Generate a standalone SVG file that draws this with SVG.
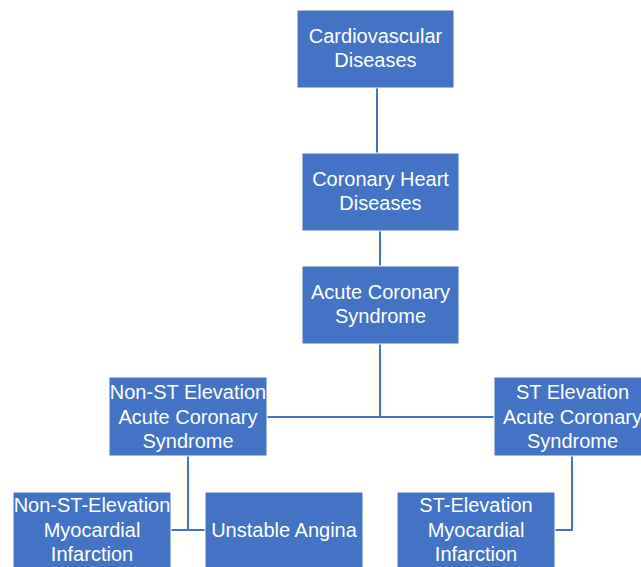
<svg xmlns="http://www.w3.org/2000/svg" width="641" height="567" viewBox="0 0 641 567">
<style>
.box{fill:#4472C4;stroke:#ffffff;stroke-width:1}
.t{fill:#ffffff;font-family:"Liberation Sans",Arial,sans-serif;font-size:20px;text-anchor:middle}
.c{fill:none;stroke:#4472C4;stroke-width:2}
</style>
<rect width="641" height="567" fill="#ffffff"/>
<g id="connectors">
<path class="c" d="M377 88V153"/>
<path class="c" d="M380 231V266"/>
<path class="c" d="M380 344V417M267 417H494"/>
<path class="c" d="M188 456V530M171 530H205"/>
<path class="c" d="M572 456V530H555"/>
</g>
<g id="cvd">
<rect class="box" x="297" y="10" width="157" height="78"/>
<text class="t" x="375.5" y="43">Cardiovascular</text>
<text class="t" x="375.5" y="67">Diseases</text>
</g>
<g id="chd">
<rect class="box" x="302" y="153" width="157" height="78"/>
<text class="t" x="380.5" y="186">Coronary Heart</text>
<text class="t" x="380.5" y="210">Diseases</text>
</g>
<g id="acs">
<rect class="box" x="302" y="266" width="157" height="78"/>
<text class="t" x="380.5" y="299">Acute Coronary</text>
<text class="t" x="380.5" y="323">Syndrome</text>
</g>
<g id="nste">
<rect class="box" x="109" y="377" width="158" height="79"/>
<text class="t" x="188" y="399">Non-ST Elevation</text>
<text class="t" x="188" y="424">Acute Coronary</text>
<text class="t" x="188" y="448">Syndrome</text>
</g>
<g id="ste">
<rect class="box" x="494" y="377" width="157" height="79"/>
<text class="t" x="572.5" y="399">ST Elevation</text>
<text class="t" x="572.5" y="424">Acute Coronary</text>
<text class="t" x="572.5" y="448">Syndrome</text>
</g>
<g id="nstemi">
<rect class="box" x="13" y="492" width="158" height="79"/>
<text class="t" x="92" y="512">Non-ST-Elevation</text>
<text class="t" x="92" y="537">Myocardial</text>
<text class="t" x="92" y="561">Infarction</text>
</g>
<g id="ua">
<rect class="box" x="205" y="492" width="158" height="79"/>
<text class="t" x="284" y="537">Unstable Angina</text>
</g>
<g id="stemi">
<rect class="box" x="397" y="492" width="158" height="79"/>
<text class="t" x="476" y="512">ST-Elevation</text>
<text class="t" x="476" y="537">Myocardial</text>
<text class="t" x="476" y="561">Infarction</text>
</g>
</svg>
